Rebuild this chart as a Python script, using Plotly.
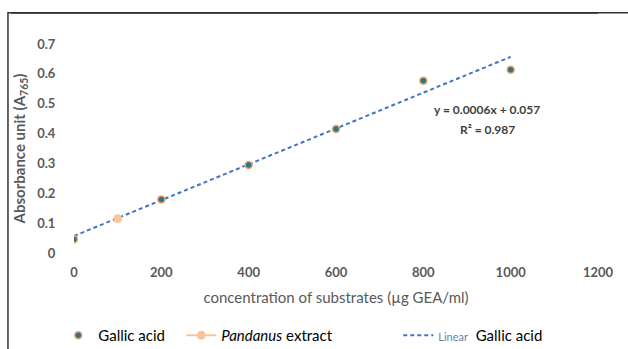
import plotly.graph_objects as go

# Data
gallic_x = [0, 200, 400, 600, 800, 1000]
gallic_y = [0.046, 0.179, 0.295, 0.415, 0.577, 0.614]
pandanus_x = [100]
pandanus_y = [0.115]
fit_slope = 0.0006
fit_intercept = 0.057
fit_x = [0, 1000]
x_ticks = [0, 200, 400, 600, 800, 1000, 1200]
y_ticks = [0, 0.1, 0.2, 0.3, 0.4, 0.5, 0.6, 0.7]
y_tick_labels = ["0", "0.1", "0.2", "0.3", "0.4", "0.5", "0.6", "0.7"]

FONT = "Lato, Liberation Sans, sans-serif"
GRAY = "#595959"

fit_y = [fit_slope * v + fit_intercept for v in fit_x]

fig = go.Figure()
fig.add_trace(go.Scatter(
    x=gallic_x, y=gallic_y, mode="markers", name="Gallic acid",
    marker=dict(size=7, color="#22788C", line=dict(color="#F2A462", width=1.5)),
    legendwidth=78, zorder=2,
))
fig.add_trace(go.Scatter(
    x=pandanus_x, y=pandanus_y, mode="lines+markers",
    name="<i>Pandanus</i> extract",
    marker=dict(size=8, color="#F8C49C", line=dict(color="#F8C49C", width=1)),
    line=dict(color="#F8C49C", width=2),
    legendwidth=172, zorder=2,
))
fig.add_trace(go.Scatter(
    x=fit_x, y=fit_y, mode="lines",
    name="<span style='font-size:11px;color:#6c7fa0'>Linear</span>  Gallic acid",
    line=dict(color="#4472C4", width=2, dash="4px,3px"),
    legendwidth=120, zorder=1,
))

fig.add_annotation(x=946, y=0.482, xref="x", yref="y", showarrow=False,
                   text="<b>y = 0.0006x + 0.057</b>",
                   font=dict(family=FONT, size=12, color="#404040"))
fig.add_annotation(x=946, y=0.412, xref="x", yref="y", showarrow=False,
                   text="<b>R² = 0.987</b>",
                   font=dict(family=FONT, size=12, color="#404040"))

# outer border (left and top visible)
fig.add_shape(type="rect", xref="paper", yref="paper",
              x0=-0.126, x1=1.2, y0=-0.6, y1=1.15,
              line=dict(color="#333333", width=1.5), fillcolor="rgba(0,0,0,0)",
              layer="above")
fig.add_shape(type="line", xref="paper", yref="paper",
              x0=-0.12, x1=1.0, y0=1.148, y1=1.148,
              line=dict(color="#333333", width=1.5))

fig.update_layout(
    width=628, height=349,
    margin=dict(l=74, r=30, t=44, b=96, autoexpand=False),
    paper_bgcolor="white", plot_bgcolor="white",
    font=dict(family=FONT, color=GRAY),
    showlegend=True,
    legend=dict(orientation="h", x=-0.03, y=-0.316, xanchor="left", yanchor="top",
                font=dict(family=FONT, size=15, color="#000000"),
                itemclick=False, bgcolor="rgba(0,0,0,0)"),
    xaxis=dict(range=[0, 1200], tickvals=x_ticks, showgrid=False, zeroline=False,
               showline=True, linecolor="#333333", linewidth=2, automargin=False,
               ticks="", ticklabelstandoff=6,
               tickfont=dict(family=FONT, size=13, color=GRAY, weight="bold"),
               title=dict(text="concentration of substrates (µg GEA/ml)",
                          font=dict(family=FONT, size=15, color=GRAY), standoff=14)),
    yaxis=dict(range=[0, 0.7], tickvals=y_ticks, ticktext=y_tick_labels,
               showgrid=False, zeroline=False, automargin=False,
               showline=True, linecolor="#333333", linewidth=2,
               ticks="", ticklabelstandoff=14,
               tickfont=dict(family=FONT, size=13, color=GRAY, weight="bold"),
               title=dict(text="<b>Absorbance unit (A<sub>765</sub>)</b>",
                          font=dict(family=FONT, size=15, color=GRAY), standoff=8)),
)

fig.write_html("out.html", config={"displayModeBar": False},
               post_script="document.body.style.margin='0';document.body.style.overflow='hidden';")
